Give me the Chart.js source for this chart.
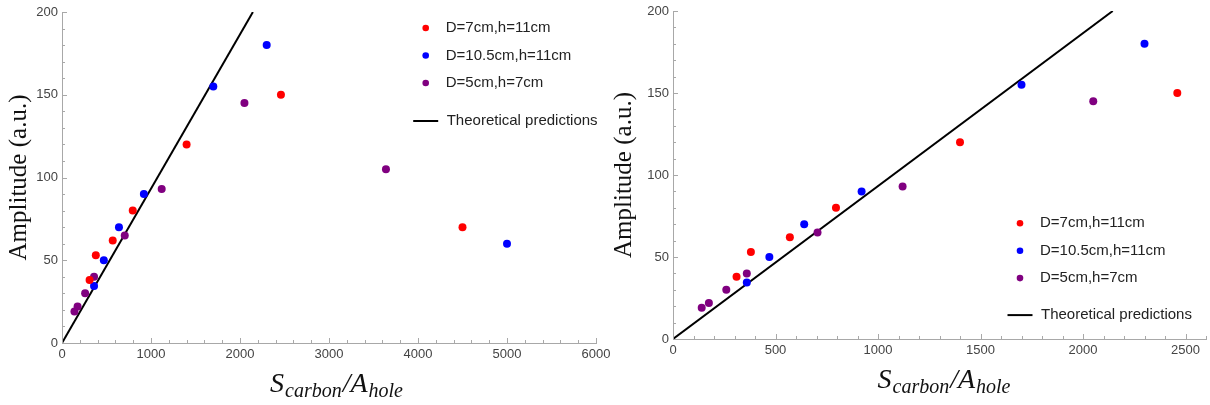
<!DOCTYPE html>
<html>
<head>
<meta charset="utf-8">
<title>Amplitude vs S_carbon/A_hole</title>
<script src="https://cdn.jsdelivr.net/npm/chart.js@4.4.0/dist/chart.umd.min.js"></script>
<style>
  html, body { margin: 0; padding: 0; background: #fff; }
  #wrap { position: relative; width: 1210px; height: 405px; }
  .box { position: absolute; top: 0; height: 405px; }
</style>
</head>
<body>
<div id="wrap">
  <!-- left canvas is a bit wider so the last tick label is not cut; right one sits on top -->
  <div class="box" style="left:0;width:615px"><canvas id="chartWide"></canvas></div>
  <div class="box" style="left:605px;width:605px"><canvas id="chartZoom"></canvas></div>
</div>
<script>
// measured amplitudes for each setup
const redX = [310, 380, 570, 795, 1400, 2460, 4500];
const redY = [38, 53, 62, 80, 120, 150, 70];
const blueX = [360, 470, 640, 920, 1700, 2300, 5000];
const blueY = [34.5, 50, 70, 90, 155, 180, 60];
const purpleX = [140, 175, 260, 360, 705, 1120, 2050, 3640];
const purpleY = [19, 22, 30, 40, 65, 93, 145, 105];
// theory: straight line through the origin
const theoryX = [0, 2145];
const theoryY = [0, 200];

const seriesLabels = ['D=7cm,h=11cm', 'D=10.5cm,h=11cm', 'D=5cm,h=7cm', 'Theoretical predictions'];
const seriesColors = ['#ff0000', '#0000ff', '#800080', '#000000'];

const yTicks = [0, 50, 100, 150, 200];
const wideXTicks = [0, 1000, 2000, 3000, 4000, 5000, 6000];
const zoomXTicks = [0, 500, 1000, 1500, 2000, 2500];

const axisGrey = '#a8a8a8';
const tickText = '#444';

function pairs(xs, ys) {
  return xs.map((x, i) => ({ x: x, y: ys[i] }));
}

function buildDatasets() {
  const pts = [pairs(redX, redY), pairs(blueX, blueY), pairs(purpleX, purpleY)];
  const sets = pts.map((d, i) => ({
    label: seriesLabels[i],
    data: d,
    backgroundColor: seriesColors[i],
    borderWidth: 0,
    pointRadius: 4,
    pointHoverRadius: 4,
    order: 0
  }));
  sets.push({
    label: seriesLabels[3],
    data: pairs(theoryX, theoryY),
    showLine: true,
    borderColor: seriesColors[3],
    borderWidth: 2,
    pointRadius: 0,
    order: 1
  });
  return sets;
}

// small inward ticks along the two axes (major + minor)
const frameTicks = {
  id: 'frameTicks',
  afterDraw(chart, args, opts) {
    const { ctx, chartArea, scales: { x, y } } = chart;
    ctx.save();
    ctx.strokeStyle = axisGrey;
    ctx.lineWidth = 1;
    ctx.beginPath();
    for (let v = x.min; v <= x.max + 1e-6; v += opts.xMinor) {
      const len = Math.abs(v / opts.xMajor - Math.round(v / opts.xMajor)) < 1e-6 ? 5 : 3;
      const px = Math.round(x.getPixelForValue(v)) + 0.5;
      ctx.moveTo(px, chartArea.bottom);
      ctx.lineTo(px, chartArea.bottom - len);
    }
    for (let v = y.min; v <= y.max + 1e-6; v += opts.yMinor) {
      const len = Math.abs(v / opts.yMajor - Math.round(v / opts.yMajor)) < 1e-6 ? 5 : 3;
      const py = Math.round(y.getPixelForValue(v)) + 0.5;
      ctx.moveTo(chartArea.left, py);
      ctx.lineTo(chartArea.left + len, py);
    }
    ctx.stroke();
    ctx.restore();
  }
};

// x title with subscripts: S_carbon / A_hole
const subTitle = {
  id: 'subTitle',
  afterDraw(chart, args, opts) {
    const { ctx, chartArea } = chart;
    const mainFont = 'italic 28px "Liberation Serif", serif';
    const smallFont = 'italic 20px "Liberation Serif", serif';
    const parts = [['S', mainFont, 0], ['carbon', smallFont, 5], ['/A', mainFont, 0], ['hole', smallFont, 5]];
    ctx.save();
    ctx.fillStyle = '#111';
    ctx.textBaseline = 'alphabetic';
    let total = 0;
    parts.forEach(p => { ctx.font = p[1]; total += ctx.measureText(p[0]).width + 1; });
    let cx = (chartArea.left + chartArea.right) / 2 + opts.shift - total / 2;
    const base = chartArea.bottom + 49;
    parts.forEach(p => {
      ctx.font = p[1];
      ctx.fillText(p[0], cx, base + p[2]);
      cx += ctx.measureText(p[0]).width + 1;
    });
    ctx.restore();
  }
};

// legend drawn inside the plot
const innerLegend = {
  id: 'innerLegend',
  afterDraw(chart, args, opts) {
    const { ctx } = chart;
    const sets = chart.data.datasets;
    ctx.save();
    ctx.font = '15px "Liberation Sans", Arial, sans-serif';
    ctx.textBaseline = 'middle';
    ctx.fillStyle = '#222';
    let y = opts.y;
    sets.forEach((ds, i) => {
      if (ds.showLine) {
        y += opts.lineGap - opts.rowGap;
        ctx.strokeStyle = ds.borderColor;
        ctx.lineWidth = 2;
        ctx.beginPath();
        ctx.moveTo(opts.x - 12.5, y);
        ctx.lineTo(opts.x + 12.5, y);
        ctx.stroke();
        ctx.fillStyle = '#222';
        ctx.fillText(ds.label, opts.x + 21, y);
      } else {
        ctx.fillStyle = ds.backgroundColor;
        ctx.beginPath();
        ctx.arc(opts.x, y, 3.3, 0, Math.PI * 2);
        ctx.fill();
        ctx.fillStyle = '#222';
        ctx.fillText(ds.label, opts.x + 20, y);
      }
      y += opts.rowGap;
    });
    ctx.restore();
  }
};

function makeChart(id, cfg) {
  const H = 405;
  const tickFont = { family: '"Liberation Sans", Arial, sans-serif', size: 13 };
  return new Chart(document.getElementById(id), {
    type: 'scatter',
    data: { datasets: buildDatasets() },
    plugins: [frameTicks, subTitle, innerLegend],
    options: {
      responsive: true,
      maintainAspectRatio: false,
      animation: false,
      layout: { padding: { top: cfg.top, right: cfg.right, left: 0, bottom: 0 } },
      scales: {
        x: {
          type: 'linear',
          min: 0,
          max: cfg.xMax,
          afterBuildTicks: s => { s.ticks = cfg.xTicks.map(v => ({ value: v })); },
          afterFit: s => { s.height = H - cfg.bottom; s.paddingLeft = 0; s.paddingRight = 0; },
          grid: { drawOnChartArea: false, drawTicks: false },
          border: { color: axisGrey, width: 1 },
          ticks: {
            padding: 4,
            color: tickText,
            maxRotation: 0,
            autoSkip: false,
            font: tickFont,
            callback: v => String(v)
          }
        },
        y: {
          type: 'linear',
          min: 0,
          max: 200,
          afterBuildTicks: s => { s.ticks = yTicks.map(v => ({ value: v })); },
          afterFit: s => { s.width = cfg.left; s.paddingTop = 0; s.paddingBottom = 0; },
          grid: { drawOnChartArea: false, drawTicks: false },
          border: { color: axisGrey, width: 1 },
          title: {
            display: true,
            text: 'Amplitude (a.u.)',
            color: '#111',
            padding: { top: 4, bottom: 0 },
            font: { family: '"Liberation Serif", "Times New Roman", serif', size: 25 }
          },
          ticks: {
            padding: 4,
            color: tickText,
            font: tickFont,
            callback: v => String(v)
          }
        }
      },
      plugins: {
        legend: { display: false },
        tooltip: { enabled: false },
        frameTicks: { xMinor: cfg.xMinor, xMajor: cfg.xMajor, yMinor: 10, yMajor: 50 },
        subTitle: { shift: cfg.titleShift },
        innerLegend: cfg.legend
      }
    }
  });
}

makeChart('chartWide', {
  left: 62, top: 12, right: 19, bottom: 343,
  xMax: 6000, xTicks: wideXTicks, xMinor: 200, xMajor: 1000,
  titleShift: 8,
  legend: { x: 425.7, y: 28, rowGap: 27.5, lineGap: 38 }
});

makeChart('chartZoom', {
  left: 68, top: 11, right: 3, bottom: 339,
  xMax: 2600, xTicks: zoomXTicks, xMinor: 100, xMajor: 500,
  titleShift: 5,
  legend: { x: 415, y: 223.3, rowGap: 27.4, lineGap: 37 }
});
</script>
</body>
</html>
